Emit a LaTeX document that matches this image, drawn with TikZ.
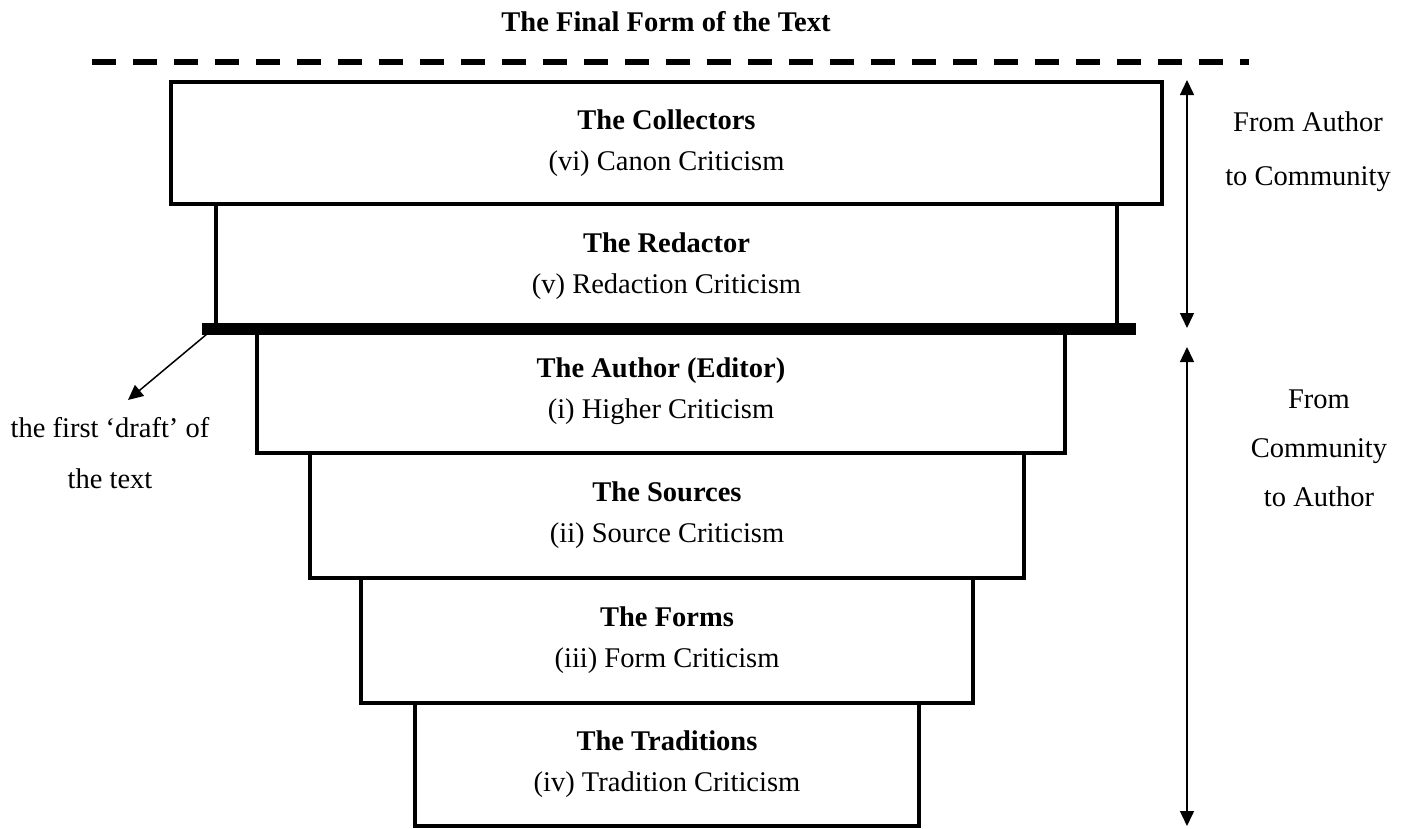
\documentclass[tikz,border=0pt]{standalone}
\usepackage{fontspec}
\setmainfont{Liberation Serif}
\usetikzlibrary{arrows.meta, positioning}
\tikzset{
    >={Triangle[width=14pt,length=15pt]},
    % Boxes
    stage/.style={rectangle, draw, line width=4pt, outer sep=0pt, inner sep=2pt,
                  minimum height=124pt, align=center, font=\fontsize{28.5}{41}\selectfont},
    % Lines
    finalline/.style={line width=6pt, dash pattern=on 24pt off 17pt},
    draftbar/.style={line width=12pt},
    spanarrow/.style={<->, line width=1.5pt},
    pointer/.style={->, line width=1.5pt},
    % Labels
    sidetxt/.style={align=center, inner sep=0pt},
    ttl/.style={font=\fontsize{28.5}{34}\selectfont\bfseries, inner sep=0pt}
}

\begin{document}
\begin{tikzpicture}[x=1pt, y=-1pt]
\useasboundingbox (0,0) rectangle (1408,828);

\node[ttl] (title) at (666,22) {The Final Form of the Text};
\draw[finalline] (92,62) -- (1249,62);

% the layers
\node[stage, minimum width=991pt, minimum height=122pt] (coll) at (666.5,143)
    {{\bfseries The Collectors}\\(vi) Canon Criticism};
\node[stage, minimum width=901pt, minimum height=125pt, below=0pt of coll] (redac)
    {{\bfseries The Redactor}\\(v) Redaction Criticism};
\node[stage, minimum width=808pt, below=0pt of redac, xshift=-5.5pt] (auth)
    {{\bfseries The Author (Editor)}\\(i) Higher Criticism};
\node[stage, minimum width=714pt, minimum height=125pt, below=0pt of auth, xshift=6pt] (src)
    {{\bfseries The Sources}\\(ii) Source Criticism};
\node[stage, minimum width=612pt, minimum height=125pt, below=0pt of src] (frm)
    {{\bfseries The Forms}\\(iii) Form Criticism};
\node[stage, minimum width=504pt, minimum height=123pt, below=0pt of frm] (trad)
    {{\bfseries The Traditions}\\(iv) Tradition Criticism};

% first draft
\coordinate (barL) at (202,329);
\coordinate (barR) at (1136,329);
\draw[draftbar] (barL) -- (barR);

\node[sidetxt, font=\fontsize{28.5}{51}\selectfont] (draft) at (110,453)
    {the first ‘draft’ of\\the text};
\coordinate (draftTip) at (128,400);
\draw[pointer] ([shift={(5,5)}]barL) -- (draftTip);

% right side
\coordinate (upTop) at (1187,80);
\coordinate (upBot) at (1187,328);
\coordinate (loTop) at (1187,347);
\coordinate (loBot) at (1187,826);
\draw[spanarrow] (upTop) -- (upBot);
\draw[spanarrow] (loTop) -- (loBot);

\node[sidetxt, font=\fontsize{28.5}{54}\selectfont] (toComm) at (1308,152)
    {From Author\\to Community};
\node[sidetxt, font=\fontsize{28.5}{49}\selectfont] (toAuth) at (1319,448)
    {From\\Community\\to Author};

\end{tikzpicture}
\end{document}
